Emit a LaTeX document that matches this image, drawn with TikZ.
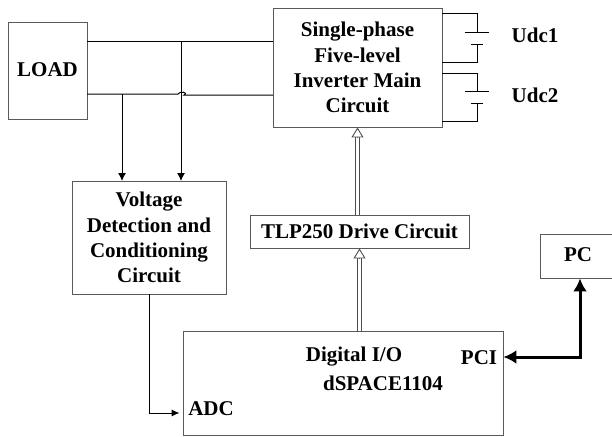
\documentclass[tikz,border=0pt]{standalone}
\usepackage{fontspec}
\setmainfont{Liberation Serif}
\usetikzlibrary{arrows.meta}
\tikzset{
	box/.style={draw=black!65, line width=0.9pt, align=center, inner sep=0pt, font=\fontsize{21}{25.3}\selectfont\bfseries},
	lbl/.style={inner sep=0pt, font=\fontsize{21}{25.3}\selectfont\bfseries},
	wire/.style={black, line width=1pt},
	sense/.style={wire, -{Latex[length=8pt,width=8pt]}},
	rail/.style={draw=black!70, line width=0.9pt},
	drivetip/.style={draw=black!70, line width=0.9pt, -{Triangle[open,fill=white,length=10pt,width=12pt]}},
	bus/.style={black, line width=3pt, {Latex[length=13pt,width=14pt]}-{Latex[length=13pt,width=14pt]}}
}
\begin{document}
\begin{tikzpicture}[x=1pt,y=-1pt]
	\useasboundingbox (0,0) rectangle (612,436);
	% blocks
	\node [box, minimum width=79pt, minimum height=97pt] (load) at (47.5,70.5) {};
	\node [lbl] (loadtext) at (47.5,70) {LOAD};
	\node [box, minimum width=169pt, minimum height=119pt] (inv) at (357.5,67.5) {Single-phase\\Five-level\\Inverter Main\\Circuit};
	\node [box, minimum width=154pt, minimum height=113pt] (det) at (149,237.5) {Voltage\\Detection and\\Conditioning\\Circuit};
	\node [box, minimum width=219pt, minimum height=33pt] (drv) at (359.5,231.5) {TLP250 Drive Circuit};
	\node [box, minimum width=80pt, minimum height=44pt] (pc) at (580,256) {};
	\node [lbl] (pctext) at (578,255) {PC};
	\node [box, minimum width=320pt, minimum height=104pt] (dsp) at (343,383) {};
	\node [lbl] (dio) at (354,357) {Digital I/O};
	\node [lbl] (dsptext) at (383,383) {dSPACE1104};
	\node [lbl] (adc) at (211,409) {ADC};
	\node [lbl] (pci) at (479,358) {PCI};
	\node [lbl] (udca) at (535,35) {Udc1};
	\node [lbl] (udcb) at (535,95) {Udc2};
	% load lines
	\coordinate (loadup) at (87,41.5);
	\coordinate (loadlow) at (87,94);
	\coordinate (invup) at (273,41.5);
	\coordinate (invlow) at (273,95);
	\coordinate (tapa) at (122,181);
	\coordinate (tapb) at (181,181);
	\draw [wire] (loadup) -- (invup);
	\draw [wire] (loadlow) -- ++(91,0) .. controls ++(1,-3) and ++(5,-3) .. ++(6,1) -- (invlow);
	\draw [sense] (tapa |- loadlow) -- (tapa);
	\draw [sense] (tapb |- loadup) -- (tapb);
	% batteries
	\coordinate (bata) at (442,14);
	\coordinate (batb) at (442,73);
	\draw [wire] (bata) -- ++(35,0) -- ++(0,19) ++(-12,0) -- ++(24,0);
	\draw [wire] (bata) ++(29,31) -- ++(12,0) ++(-6,0) -- ++(0,17) -- ++(-35,0);
	\draw [wire] (batb) -- ++(35,0) -- ++(0,18) ++(-12,0) -- ++(24,0);
	\draw [wire] (batb) ++(29,30) -- ++(12,0) ++(-6,0) -- ++(0,18) -- ++(-35,0);
	% signals
	\draw [rail] ([xshift=-2pt]drv.north -| inv.south) -- ([xshift=-2pt,yshift=-9pt]inv.south);
	\draw [rail] ([xshift=2pt]drv.north -| inv.south) -- ([xshift=2pt,yshift=-9pt]inv.south);
	\draw [drivetip] ([yshift=-10pt]inv.south) -- (inv.south);
	\draw [rail] ([xshift=-2pt]dsp.north -| drv.south) -- ([xshift=-2pt,yshift=-9pt]drv.south);
	\draw [rail] ([xshift=2pt]dsp.north -| drv.south) -- ([xshift=2pt,yshift=-9pt]drv.south);
	\draw [drivetip] ([yshift=-10pt]drv.south) -- (drv.south);
	\coordinate (adcin) at (dsp.west |- 0,413);
	\draw [wire, -{Latex[length=8pt,width=7pt]}] (det.south) -- (adcin -| det.south) -- ([xshift=-3pt]adcin);
	\coordinate (pciin) at (dsp.east |- 0,357);
	\draw [bus] (pciin) -- (pciin -| pc.south) -- (pc.south);
\end{tikzpicture}
\end{document}
